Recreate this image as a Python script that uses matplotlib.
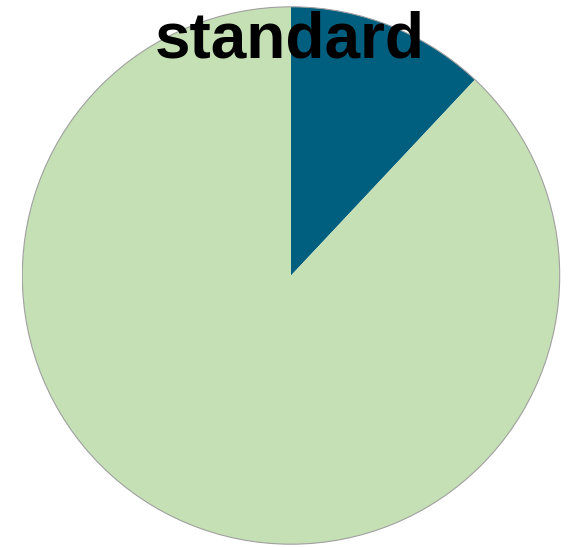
import matplotlib
matplotlib.use("Agg")
import matplotlib.pyplot as plt

labels = ["a", "b"]
values = [12, 88]
colors = ["#005F7F", "#C5E0B4"]

W, H = 572, 547
fig = plt.figure(figsize=(W / 100, H / 100), dpi=100)

# pie centre ~ (291, 275.5) px, radius ~ 269.5 px
cx, cy, r = 291, 275.5, 269.5
ax = fig.add_axes([(cx - r) / W, (H - cy - r) / H, 2 * r / W, 2 * r / H])
ax.pie(values, colors=colors, startangle=90, counterclock=False, radius=1,
       wedgeprops=dict(linewidth=0))
ax.add_patch(plt.Circle((0, 0), 1, fill=False, edgecolor="#A0A0A0", linewidth=0.8))
ax.set_xlim(-1.003, 1.003)
ax.set_ylim(-1.003, 1.003)
ax.set_aspect("equal")
ax.axis("off")

fig.text(290 / W, 1 - 58 / H, "standard", ha="center", va="baseline",
         fontsize=46, fontweight="bold", family="Liberation Sans")

fig.savefig("out.png", dpi=100)
